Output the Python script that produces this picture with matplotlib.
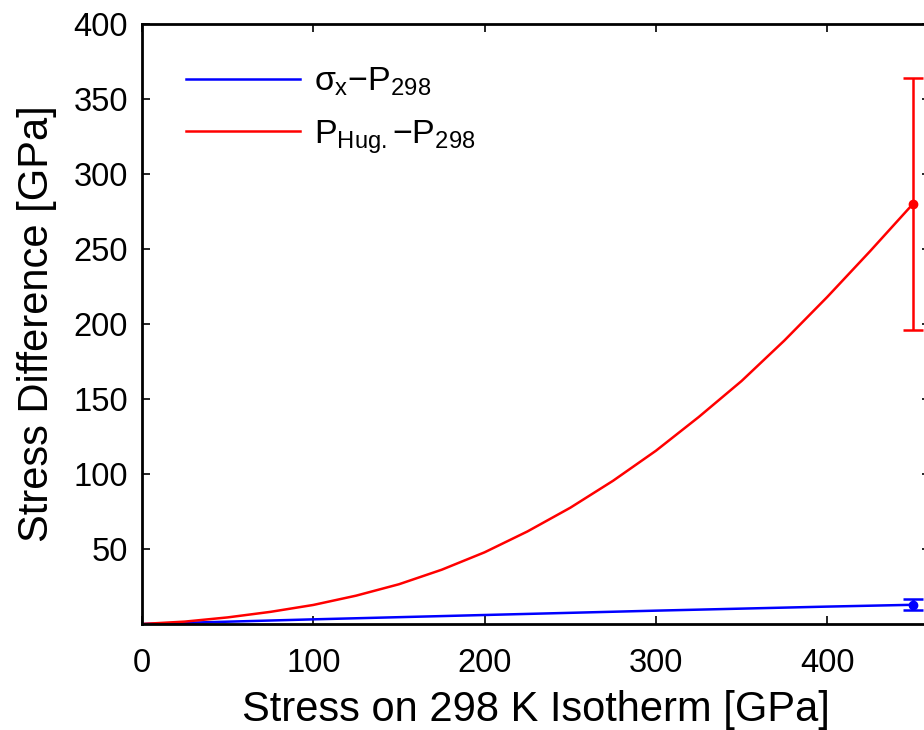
import numpy as np
import matplotlib.pyplot as plt

plt.rcParams['font.family'] = ['Liberation Sans', 'DejaVu Sans']
plt.rcParams['mathtext.fontset'] = 'custom'
plt.rcParams['mathtext.rm'] = 'Liberation Sans'
plt.rcParams['mathtext.it'] = 'Liberation Sans'

# stress on 298 K isotherm [GPa]
x_hug = [0, 25, 50, 75, 100, 125, 150, 175, 200, 225, 250, 275, 300, 325,
         350, 375, 400, 425, 450]
# P_Hug - P_298
y_hug = [0, 1.6, 4.4, 8.1, 12.7, 18.9, 26.5, 36.2, 47.8, 61.7, 77.5, 95.5, 115.5,
         138.0, 162.0, 189.0, 218.0, 248.5, 280.0]
# sigma_x - P_298
x_sig = [0, 100, 200, 300, 400, 450]
y_sig = [0, 3.1, 6.0, 8.9, 11.6, 12.8]

# error bars at the end point
err_x = 450
hug_end, hug_err = 280, 84
sig_end, sig_err = 12.8, 3.6

fig = plt.figure(figsize=(9.24, 7.3), dpi=100)
ax = fig.add_axes([142 / 924, 106 / 730, 788 / 924, 600 / 730])

ax.plot(x_sig, y_sig, color='blue', lw=1.8, label=r'$\sigma_\mathrm{x}$$-$P$_\mathrm{298}$')
ax.plot(x_hug, y_hug, color='red', lw=1.8, label=r'P$_\mathrm{Hug.}$$-$P$_\mathrm{298}$')
ax.errorbar([err_x], [hug_end], yerr=[hug_err], fmt='o', color='red', ms=6,
            capsize=7.5, elinewidth=1.8, capthick=1.8)
ax.errorbar([err_x], [sig_end], yerr=[sig_err], fmt='o', color='blue', ms=6,
            capsize=7.5, elinewidth=1.8, capthick=1.8)

ax.set_xlim(0, 460)
ax.set_ylim(0, 400)
ax.set_xticks([0, 100, 200, 300, 400])
ax.set_yticks([50, 100, 150, 200, 250, 300, 350, 400])
ax.tick_params(direction='in', length=6, width=1.2, labelsize=23.5, pad=10,
               top=True, right=True)
ax.tick_params(axis='x', pad=17)
for s in ax.spines.values():
    s.set_linewidth(2)

ax.set_xlabel('Stress on 298 K Isotherm [GPa]', fontsize=30, labelpad=8)
ax.set_ylabel('Stress Difference [GPa]', fontsize=30, labelpad=12)

ax.legend(loc='upper left', bbox_to_anchor=(0.017, 0.982), frameon=False,
          fontsize=24.5, handlelength=3.35, handletextpad=0.4, labelspacing=0.6)

fig.savefig('out.png', dpi=100)
